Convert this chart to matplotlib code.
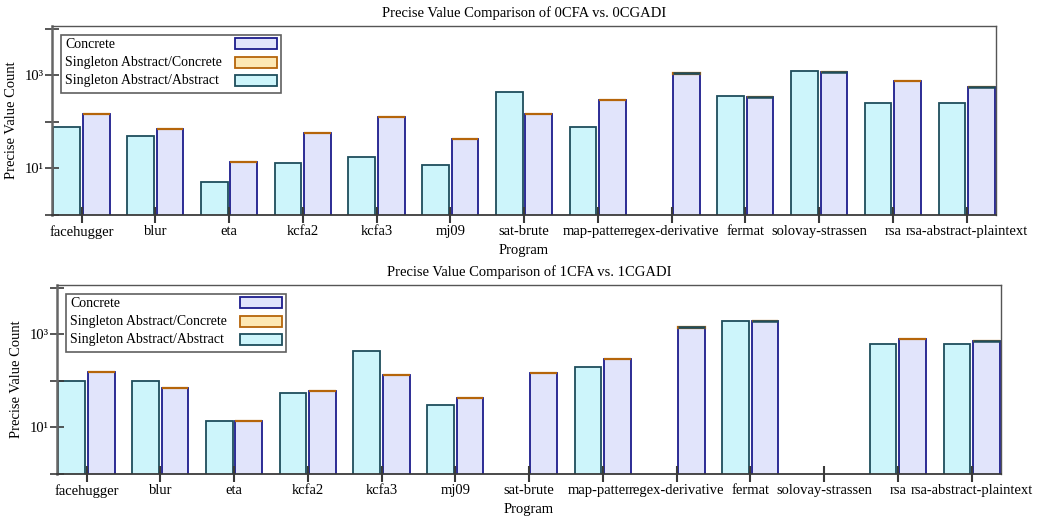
import numpy as np
import matplotlib
matplotlib.use("Agg")
import matplotlib.pyplot as plt
from matplotlib.patches import Rectangle

plt.rcParams['font.family'] = ['Liberation Serif', 'DejaVu Serif']

programs = ['facehugger', 'blur', 'eta', 'kcfa2', 'kcfa3', 'mj09', 'sat-brute',
            'map-pattern', 'regex-derivative', 'fermat', 'solovay-strassen',
            'rsa', 'rsa-abstract-plaintext']
nan = np.nan

# 0CFA vs. 0CGADI
abs_abs_0 = [79, 50, 5.1, 12.8, 17.7, 12, 427, 79, nan, 363, 1217, 259, 259]
concrete_0 = [150, 70, 14, 58, 127, 43, 145, 290, 1080, 350, 1180, 760, 550]
sa_conc_0 = [0, 0, 0, 0, 0, 0, 0, 0, 20, 0, 0, 0, 12]
sa_abs_0 = [nan, nan, nan, nan, nan, nan, nan, nan, 0, 0, 0, nan, 0]

# 1CFA vs. 1CGADI
abs_abs_1 = [99, 100, 14, 54, 434, 30, nan, 198, nan, 1935, nan, 607, 607]
concrete_1 = [155, 70, 13.5, 60, 135, 43, 150, 295, 1380, 1900, nan, 800, 700]
sa_conc_1 = [0, 0, 0, 0, 0, 0, 0, 0, 25, 0, nan, 0, 12]
sa_abs_1 = [nan, nan, nan, nan, nan, nan, nan, nan, 0, 0, nan, nan, 0]

titles = ['Precise Value Comparison of 0CFA vs. 0CGADI',
          'Precise Value Comparison of 1CFA vs. 1CGADI']
key_labels = ['Concrete', 'Singleton Abstract/Concrete', 'Singleton Abstract/Abstract']

cyan_fill, cyan_edge = '#cdf5fb', '#1e4d5c'
lav_fill, lav_edge = '#e1e4fb', '#1c1c8c'
org_fill, org_edge = '#fde8b4', '#b5650a'
axis_col = '#3a3a3a'
fs = 10.5


def draw_key(ax):
    ax.add_patch(Rectangle((0.0095, 0.6445), 0.233, 0.3065, transform=ax.transAxes,
                           facecolor='white', edgecolor='#606060', lw=1.2, zorder=5))
    rows = [0.9017, 0.8045, 0.7095]
    styles = [(lav_fill, lav_edge), (org_fill, org_edge), (cyan_fill, cyan_edge)]
    for lab, yy, (fc, ec) in zip(key_labels, rows, styles):
        ax.text(0.0138, yy, lab, transform=ax.transAxes, fontsize=10,
                va='center', ha='left', zorder=6)
        ax.add_patch(Rectangle((0.1939, yy - 0.026), 0.0445, 0.058, transform=ax.transAxes,
                               facecolor=fc, edgecolor=ec, lw=1.3, zorder=6))


def draw_panel(ax, title, abs_abs, concrete, sa_conc, sa_abs):
    k = np.arange(len(programs)) * 2.5
    ax.bar(k + 0.5, abs_abs, width=0.9, color=cyan_fill, edgecolor=cyan_edge, lw=1.3)
    ax.bar(k + 1.5, concrete, width=0.9, color=lav_fill, edgecolor=lav_edge, lw=1.3)
    top = np.array(concrete) + np.array(sa_conc)
    ax.bar(k + 1.5, sa_conc, bottom=concrete, width=0.9, color=org_fill,
           edgecolor=org_edge, lw=1.6)
    ax.bar(k + 1.5, sa_abs, bottom=top, width=0.9, color=cyan_fill,
           edgecolor=cyan_edge, lw=1.8)

    ax.set_yscale('log')
    ax.set_xlim(0, 32)
    ax.set_ylim(1, 10 ** 4.065)
    ax.set_yticks([1, 10, 100, 1000, 10000])
    ax.set_yticklabels(['', '10¹', '', '10³', ''])
    ax.minorticks_off()
    ax.set_xticks(k + 1)
    ax.set_xticklabels(programs, fontsize=fs)
    # later labels cover earlier ones where they collide (map-pattern / regex-derivative)
    for t in ax.get_xticklabels():
        t.set_bbox(dict(facecolor='white', edgecolor='none', pad=0))
    ax.tick_params(axis='x', direction='inout', length=12, width=1.5, color=axis_col,
                   pad=1.5)
    ax.tick_params(axis='y', direction='inout', length=10, width=1.2, color=axis_col,
                   labelsize=fs, pad=1)
    for s in ax.spines.values():
        s.set_color('#555555')
        s.set_linewidth(1.0)
    ax.spines['left'].set_color('#666666')
    ax.spines['left'].set_linewidth(1.8)
    ax.spines['bottom'].set_color(axis_col)
    ax.spines['bottom'].set_linewidth(1.3)
    ax.set_title(title, fontsize=fs, pad=6)
    ax.set_xlabel('Program', fontsize=fs, labelpad=3.5)
    ax.set_ylabel('Precise Value Count', fontsize=fs, labelpad=5)
    draw_key(ax)


fig = plt.figure(figsize=(10.39, 5.23), dpi=100)
ax1 = fig.add_axes([0.05005, 0.5889, 0.9086, 0.362])
ax2 = fig.add_axes([0.05486, 0.0937, 0.9086, 0.362])
draw_panel(ax1, titles[0], abs_abs_0, concrete_0, sa_conc_0, sa_abs_0)
draw_panel(ax2, titles[1], abs_abs_1, concrete_1, sa_conc_1, sa_abs_1)

fig.savefig('out.png', dpi=100)
